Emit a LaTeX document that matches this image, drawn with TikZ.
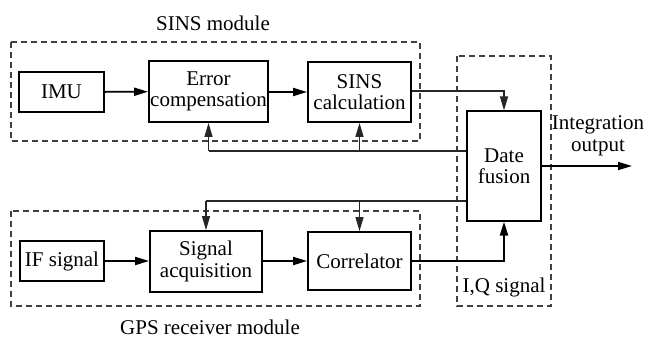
\documentclass[tikz,border=0pt]{standalone}
\usepackage{fontspec}
\setmainfont{Liberation Serif}
\usetikzlibrary{arrows.meta}
\begin{document}
\begin{tikzpicture}[x=1pt,y=-1pt,
  blk/.style={draw, line width=1.8pt, align=center, inner sep=0pt, font=\fontsize{21}{21.5}\selectfont},
  lbl/.style={inner sep=0pt, font=\fontsize{21}{21.5}\selectfont, align=center},
  grp/.style={draw=black!75, line width=1.4pt, dash pattern=on 6pt off 4pt},
  arr/.style={line width=1.8pt, -{Triangle[length=14pt,width=8pt]}},
  thin/.style={line width=1.2pt, draw=black!85},
  thinarr/.style={line width=1.2pt, draw=black!85, -{Triangle[length=14pt,width=8pt]}}]
\useasboundingbox (0,0) rectangle (647,340);
% groups
\draw[grp] (11,42) rectangle (420,141);
\draw[grp] (11,211) rectangle (420,306);
\draw[grp] (457,56) rectangle (551,306);
\node[lbl] (sinsl) at (213,23) {SINS module};
\node[lbl] (gpsl) at (210,327) {GPS receiver module};
\node[lbl] (iql) at (504,287) {I,Q signal};
\node[lbl] (outl) at (598,136) {Integration\\output};
% blocks
\node[blk, minimum width=85pt, minimum height=40pt] (imu) at (61.5,92) {IMU};
\node[blk, minimum width=119pt, minimum height=61pt] (err) at (208.5,91.5) {Error\\compensation};
\node[blk, minimum width=103pt, minimum height=60pt] (calc) at (359.5,92) {SINS\\calculation};
\node[blk, line width=1.2pt, minimum width=74pt, minimum height=110pt] (fus) at (504,166) {Date\\fusion};
\node[blk, minimum width=84pt, minimum height=40pt] (ifs) at (62,261) {IF signal};
\node[blk, minimum width=112pt, minimum height=61pt] (acq) at (206,261.5) {Signal\\acquisition};
\node[blk, minimum width=103pt, minimum height=58pt] (corr) at (359.5,261) {Correlator};
\coordinate (fb1) at (0,151);
\coordinate (fb2) at (0,201);
\coordinate (outend) at (632,166);
% connectors
\draw[arr] (imu) -- (err);
\draw[arr] (err.east |- imu) -- (calc.west |- imu);
\draw[thinarr] (calc.east |- 0,91) -| (fus.north);
\draw[thin] (fus.west |- fb1) -- (err.south |- fb1);
\draw[thinarr] (err.south |- fb1) -- (err.south);
\draw[thinarr] (calc.south |- fb1) -- (calc.south);
\draw[thin] (fus.west |- fb2) -- (acq.north |- fb2);
\draw[thinarr] (acq.north |- fb2) -- (acq.north);
\draw[thinarr] (corr.north |- fb2) -- (corr.north);
\draw[arr] (ifs) -- (acq.west |- ifs);
\draw[arr] (acq.east |- corr) -- (corr.west);
\draw[arr, line width=2.2pt] (corr.east) -| (fus.south);
\draw[arr] (fus.east |- outend) -- (outend);
\end{tikzpicture}
\end{document}
